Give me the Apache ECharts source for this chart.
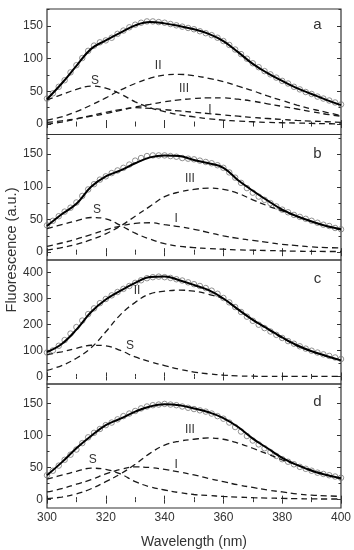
<!DOCTYPE html>
<html>
<head>
<meta charset="utf-8">
<script src="https://cdn.jsdelivr.net/npm/echarts@6/dist/echarts.min.js"></script>
<style>html,body{margin:0;padding:0;background:#fff}#c{width:354px;height:550px}</style>
</head>
<body>
<div id="c"></div>
<script>
// ---- data ----
const wlData = [300,302,304,306,308,310,312,314,316,318,320,322,324,326,328,330,332,334,336,338,340,342,344,346,348,350,352,354,356,358,360,362,364,366,368,370,372,374,376,378,380,382,384,386,388,390,392,394,396,398,400];
const wlFit = [300,305,310,315,320,325,330,335,340,345,350,355,360,365,370,375,380,385,390,395,400];

// panel a
const aData = [39,47,57,67,79,90,101,112,120,125,128,132,138,143,148,152,155,157,157,156,155,153,151,149,147,145,142,139,136,132,127,121,114,107,100,93,87,81,76,71,66,62,57,53,49,46,42,39,36,33,30];
const aFit  = [38,62,89,115,128,140,151,156,154,150,145,138,127,110,92,78,66,55,46,37,29];
const aS    = [37,45,53,58,55,46,34,25,19,14,11,8,6,4.5,3.5,2.5,2,1.5,1,0.5,0.3];
const aI    = [0,3,8,13,18,22,25,24,22,20,18,16,14,12,10,8.5,7,5.5,4.5,3.5,2.5];
const aII   = [6,11,19,29,40,52,62,70,75,76,74,70,65,58,51,43,36,29,23,18,13];
const aIII  = [2.5,5,8,12,16,21,26,30,34,37,39,40,40,38,35,31,27,23,19,15,12];

// panel b
const bData = [41,48,55,62,68,76,86,96,104,111,116,121,125,129,134,140,144,147,148,148,148,147,146,144,143,142,140,138,136,133,129,122,114,106,98,91,85,80,75,70,65,61,57,54,51,48,45,42,40,37,35];
const bFit  = [40,58,74,100,116,125,136,145,148,147,141,136,129,110,94,79,65,55,47,40,35];
const bS    = [36,42,48,53,51,41,29,20,13,9,7,5.5,4.5,3.5,3,2.5,2,1.5,1.2,1,1];
const bI    = [9,14,20,27,34,40,44,45,42,39,35,30,25,21,18,15,12,10,8,7,6.5];
const bIII  = [3,7,12,19,28,40,55,70,85,92,96,98,96,90,80,71,63,55,47,40,34];

// panel c
const cData = [92,100,118,140,165,190,215,240,262,282,298,312,325,337,348,360,370,378,382,384,382,379,374,369,362,355,348,340,330,318,302,285,267,248,230,214,199,186,173,160,148,136,126,116,107,99,92,85,79,73,67];
const cFit  = [94,125,180,248,296,330,360,383,385,370,352,332,300,258,218,184,150,120,97,79,62];
const cS    = [84,95,108,120,118,100,75,57,42,28,17,10,5,2,1,0,0,0,0,0,0];
const cII   = [23,42,70,110,172,238,285,318,328,332,328,316,298,258,218,182,148,118,96,78,62];

// panel d
const dData = [38,45,53,62,70,78,88,97,104,110,116,120,125,130,134,138,142,145,147,148,149,148,147,145,143,141,139,137,134,130,126,120,113,106,99,92,86,80,74,68,63,59,55,51,48,45,42,40,38,36,34];
const dFit  = [38,58,80,99,116,126,137,145,148.5,147,142,136,127,113,95,80,65,54,45,38.5,33.5];
const dS    = [32,38,44,49,47,40,28,20,15,11,8,6.5,5,4,3,2.5,2,1.5,1.2,1,1];
const dI    = [12,17,24,31,40,47,51,50,47,43,38.5,33,28,23,19,15,12,9,7,6,5];
const dIII  = [1.5,4,9,17,28,40,55,72,85,91,94,96,94,88,80,71,62,54,46,39,32];

// tick values
const xTicks = [300,320,340,360,380,400];
const yMajorSmall = [0,50,100,150];
const yMinorSmall = [25,75,125,175];
const yMajorC = [0,100,200,300,400];
const yMinorC = [50,150,250,350];

// labels
const panels = [
  {letter:'a', data:aData, fit:aFit, comps:[aS,aI,aII,aIII], ymin:-16, ymax:176, major:yMajorSmall, minor:yMinorSmall,
   labels:[['S',316.3,67],['II',337.8,89],['III',346.6,54],['I',355.4,21.4]], letterPos:[392,152]},
  {letter:'b', data:bData, fit:bFit, comps:[bS,bI,bIII], ymin:-12, ymax:180, major:yMajorSmall, minor:yMinorSmall,
   labels:[['S',317,64.6],['III',348.6,112],['I',343.9,50.8]], letterPos:[392,150.4]},
  {letter:'c', data:cData, fit:cFit, comps:[cS,cII], ymin:-29, ymax:448, major:yMajorC, minor:yMinorC,
   labels:[['II',330.6,329],['S',328.2,117]], letterPos:[392,375]},
  {letter:'d', data:dData, fit:dFit, comps:[dS,dI,dIII], ymin:-13, ymax:180, major:yMajorSmall, minor:yMinorSmall,
   labels:[['S',315.6,61.9],['III',348.6,109],['I',343.9,54.3]], letterPos:[392,151.8]}
];

const gridPos = [{top:9,height:125.5},{top:134.5,height:125.5},{top:260,height:124},{top:384,height:127}];
const axisCol = '#333';
const txtCol = '#333';
const FONT = 'Liberation Sans, Arial, sans-serif';

const grid=[], xAxis=[], yAxis=[], series=[];
panels.forEach((p,i)=>{
  grid.push({left:47, right:13, top:gridPos[i].top, height:gridPos[i].height, show:true, borderColor:axisCol, borderWidth:1.2, backgroundColor:'transparent'});
  const last = i===panels.length-1;
  ['bottom','top'].forEach(pos=>{
    xAxis.push({type:'value', gridIndex:i, position:pos, min:300, max:400, interval:20,
      axisLine:{show:false}, splitLine:{show:false},
      axisTick:{show:true, inside:true, length:4, lineStyle:{color:axisCol, width:1}},
      minorTick:{show:true, splitNumber:2, length:2.5, lineStyle:{color:axisCol, width:1}},
      axisLabel:{show: last && pos==='bottom', margin:4, color:txtCol, fontSize:12, fontFamily:FONT},
      name: (last && pos==='bottom') ? 'Wavelength (nm)' : '',
      nameLocation:'middle', nameGap:27, nameTextStyle:{color:txtCol, fontSize:14, fontFamily:FONT}
    });
  });
  ['left','right'].forEach(pos=>{
    yAxis.push({type:'value', gridIndex:i, position:pos, min:p.ymin, max:p.ymax,
      axisLine:{show:false}, splitLine:{show:false},
      axisTick:{show:true, inside:true, length:4, customValues:p.major, lineStyle:{color:axisCol, width:1}},
      axisLabel:{show:pos==='left', customValues:p.major, margin:4, color:txtCol, fontSize:12, fontFamily:FONT}
    });
    yAxis.push({type:'value', gridIndex:i, position:pos, min:p.ymin, max:p.ymax,
      axisLine:{show:false}, splitLine:{show:false},
      axisTick:{show:true, inside:true, length:2.5, customValues:p.minor, lineStyle:{color:axisCol, width:1}},
      axisLabel:{show:false}
    });
  });
  const xi = 2*i, yi = 4*i;
  series.push({type:'scatter', xAxisIndex:xi, yAxisIndex:yi, z:2, silent:true,
    data: wlData.map((w,k)=>[w,p.data[k]]), symbol:'circle', symbolSize:5.5,
    itemStyle:{color:'rgba(255,255,255,0)', borderColor:'#777', borderWidth:1}});
  p.comps.forEach(arr=>{
    series.push({type:'line', xAxisIndex:xi, yAxisIndex:yi, z:3, silent:true, showSymbol:false, smooth:0.4,
      data: wlFit.map((w,k)=>[w,arr[k]]),
      lineStyle:{color:'#1a1a1a', width:1.3, type:[6,4]}});
  });
  const mp = p.labels.map(l=>({name:l[0], coord:[l[1],l[2]]}));
  mp.push({name:p.letter, coord:p.letterPos, label:{fontSize:15}});
  series.push({type:'line', xAxisIndex:xi, yAxisIndex:yi, z:4, silent:true, showSymbol:false, smooth:0.4,
    data: wlFit.map((w,k)=>[w,p.fit[k]]),
    lineStyle:{color:'#000', width:2},
    markPoint:{symbol:'circle', symbolSize:0, silent:true, animation:false,
      label:{show:true, position:'inside', formatter:(q)=>q.name, color:txtCol, fontSize:12, fontFamily:FONT},
      data: mp}
  });
});

const chart = echarts.init(document.getElementById('c'), null, {renderer:'canvas'});
chart.setOption({
  animation:false,
  backgroundColor:'#fff',
  grid, xAxis, yAxis, series,
  graphic:[{type:'text', x:12, y:250, rotation:Math.PI/2,
    style:{text:'Fluorescence (a.u.)', fill:txtCol, fontSize:14.5, fontFamily:FONT, textAlign:'center', textVerticalAlign:'middle'}}]
});
</script>
</body>
</html>
